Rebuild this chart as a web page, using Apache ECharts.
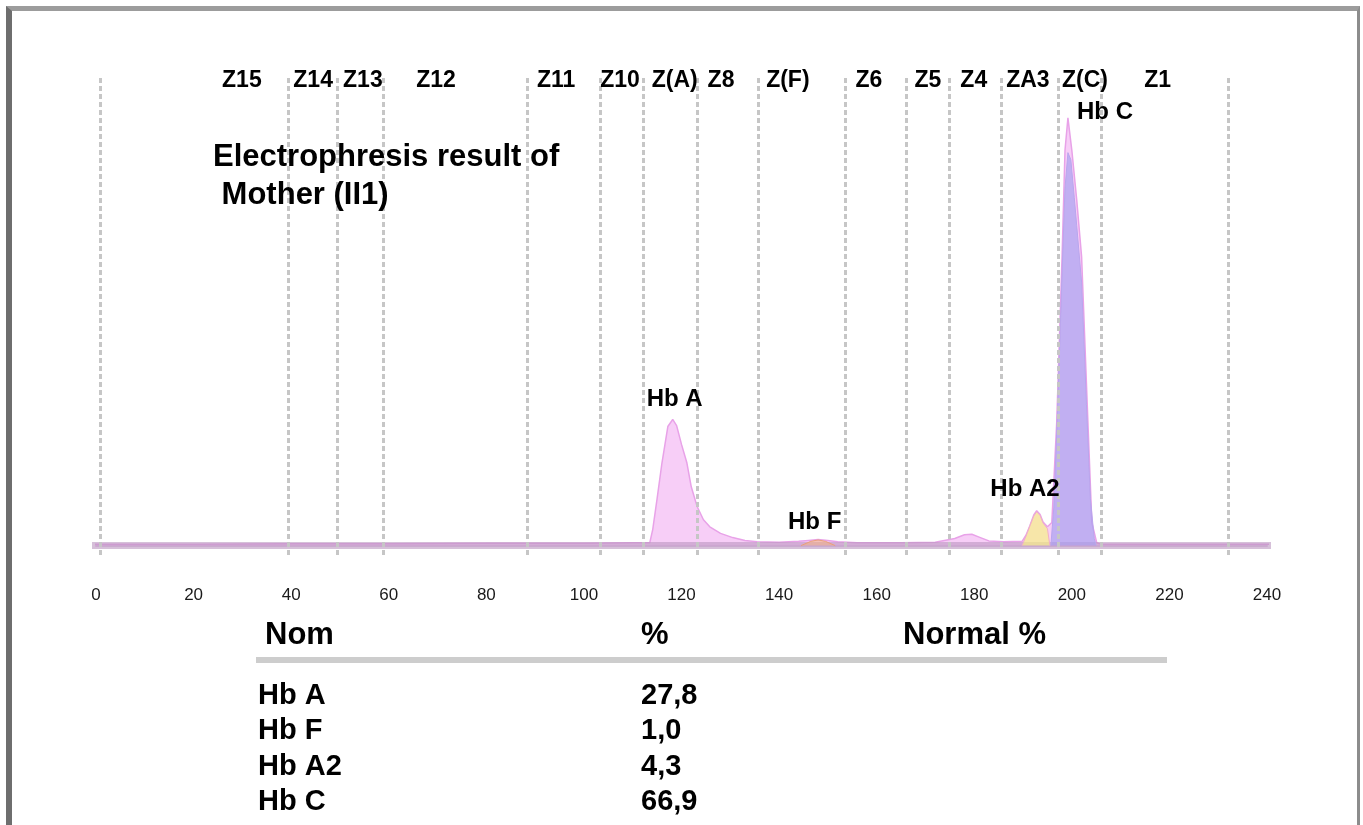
<!DOCTYPE html>
<html>
<head>
<meta charset="utf-8">
<script src="https://cdn.jsdelivr.net/npm/echarts@6/dist/echarts.min.js"></script>
<style>
  html, body { margin: 0; padding: 0; background: #fff; }
  #wrap { position: relative; width: 1363px; height: 825px; overflow: hidden; }
  #chart { position: absolute; left: 0; top: 0; width: 1363px; height: 825px; }
  #frame {
    position: absolute; left: 6px; top: 6px; width: 1345px; height: 840px;
    border-top: 5px solid #9c9c9c; border-left: 6px solid #6e6e6e; border-right: 3px solid #8c8c8c;
    pointer-events: none;
  }
</style>
</head>
<body>
<div id="wrap">
  <div id="chart"></div>
  <div id="frame"></div>
</div>
<script>
// densitometer trace (mobility units vs. relative absorbance)
const traceX = [-1.6, 20, 40, 60, 80, 100, 110, 113.5, 114.1, 115, 116, 117.2, 118.2, 119, 120, 121.1, 122, 123.2, 124.5, 125.8, 128, 130.5, 133, 135.5, 140, 144, 146, 148, 150, 152, 156, 165, 172, 176, 178, 179.5, 181, 183, 186, 189.8, 190.6, 191.4, 192.2, 192.8, 193.5, 194.1, 195, 195.9, 196.9, 198, 198.6, 199.2, 200, 201, 202, 203.3, 204.1, 205.1, 206, 215, 230, 241];
const traceY = [0.3, 0.3, 0.4, 0.4, 0.5, 0.5, 0.6, 0.6, 3.4, 10, 17.6, 25.3, 26.8, 25.5, 21.5, 17.6, 12.5, 8.3, 5.5, 4.0, 2.6, 1.7, 1.1, 0.8, 0.7, 0.9, 1.1, 1.3, 1.1, 0.8, 0.6, 0.6, 0.7, 1.5, 2.3, 2.4, 1.8, 1.0, 0.8, 0.9, 2.2, 4.2, 6.5, 7.4, 6.6, 5.0, 4.0, 4.9, 26.1, 61.4, 84, 90.9, 84, 73.5, 61.4, 26.1, 4.9, 0.6, 0.3, 0.3, 0.3, 0.3];

const hbcX = [195.7, 196.3, 196.9, 197.5, 198, 198.6, 199.2, 199.8, 200.5, 201, 202, 203, 203.8, 204.6, 205];
const hbcY = [0, 8, 24, 42, 58, 76, 83.5, 82, 74, 68, 56, 30, 10, 1.5, 0];

const hba2X = [189.8, 190.6, 191.4, 192.2, 192.8, 193.5, 194.1, 195, 195.5];
const hba2Y = [0, 2, 4.2, 6.3, 7.2, 6.4, 4.8, 3.6, 0];

const hbfX = [144.5, 146.5, 148, 149.5, 151.5];
const hbfY = [0, 0.9, 1.2, 0.9, 0];

const baselineX = [-1.6, 241];

const zoneLines = [0.8, 39.3, 49.4, 58.8, 88.3, 103.3, 112.1, 123.2, 135.7, 153.5, 166, 174.8, 185.5, 197.3, 206.1, 232];
const zoneNames = ["Z15", "Z14", "Z13", "Z12", "Z11", "Z10", "Z(A)", "Z8", "Z(F)", "Z6", "Z5", "Z4", "ZA3", "Z(C)", "Z1"];
const zoneX = [29.9, 44.5, 54.7, 69.7, 94.3, 107.4, 118.6, 128.1, 141.8, 158.4, 170.5, 179.9, 191, 202.7, 217.6];
const zoneY = 98.9;

const peakNames = ["Hb A", "Hb F", "Hb A2", "Hb C"];
const peakLabelX = [118.6, 147.3, 190.4, 206.8];
const peakLabelY = [31.0, 4.9, 11.9, 92.1];

const tableHeaders = ["Nom", "%", "Normal %"];
const tableNames = ["Hb A", "Hb F", "Hb A2", "Hb C"];
const tablePct = ["27,8", "1,0", "4,3", "66,9"];

const FONT = "'Liberation Sans', Arial, sans-serif";

const pairs = (xs, ys) => xs.map((x, i) => [x, ys[i]]);

const chart = echarts.init(document.getElementById("chart"));

const tableGraphics = [];
const headerX = [265, 641, 903];
tableHeaders.forEach((h, i) => {
  tableGraphics.push({
    type: "text", left: headerX[i], top: 620,
    style: { text: h, font: "bold 31px " + FONT, fill: "#000" }
  });
});
tableGraphics.push({
  type: "line", shape: { x1: 256, y1: 660, x2: 1167, y2: 660 },
  style: { stroke: "#cdcdcd", lineWidth: 6 }
});
tableNames.forEach((n, i) => {
  const top = 681 + i * 35.5;
  tableGraphics.push({
    type: "text", left: 258, top: top,
    style: { text: n, font: "bold 29px " + FONT, fill: "#000" }
  });
  tableGraphics.push({
    type: "text", left: 641, top: top,
    style: { text: tablePct[i], font: "bold 29px " + FONT, fill: "#000" }
  });
});

const labelStyle = (size) => ({
  show: true, position: "inside", formatter: "{b}",
  color: "#000", opacity: 1, fontFamily: FONT, fontWeight: "bold", fontSize: size
});

chart.setOption({
  animation: false,
  backgroundColor: "#fff",
  title: {
    text: "Electrophresis result of\n Mother (II1)",
    left: 208,
    top: 133,
    textStyle: { fontFamily: FONT, fontWeight: "bold", fontSize: 31, lineHeight: 38, color: "#000" }
  },
  grid: { left: 96, right: 96, top: 75, bottom: 270 },
  xAxis: {
    type: "value",
    min: 0,
    max: 240,
    interval: 20,
    offset: 17,
    axisLine: { show: true, lineStyle: { color: "#e2c8e6", width: 2 } },
    axisTick: { show: false },
    splitLine: { show: false },
    axisLabel: { color: "#1a1a1a", fontSize: 17, fontFamily: FONT, margin: 15 }
  },
  yAxis: {
    type: "value",
    min: -2,
    max: 100,
    show: false,
    splitLine: { show: false }
  },
  graphic: tableGraphics,
  series: [
    {
      name: "zones",
      type: "line",
      data: [],
      silent: true,
      markLine: {
        silent: true,
        symbol: "none",
        label: { show: false },
        lineStyle: { color: "#c6c6c6", type: [5, 3], width: 3 },
        data: zoneLines.map((v) => ({ xAxis: v }))
      },
      z: 1
    },
    {
      name: "trace",
      type: "line",
      data: pairs(traceX, traceY),
      symbol: "none",
      clip: false,
      lineStyle: { color: "#e8a2e8", width: 1.5 },
      areaStyle: { color: "rgba(242,172,242,0.85)" },
      z: 3
    },
    {
      name: "baseline",
      type: "line",
      data: baselineX.map((x) => [x, 0]),
      symbol: "none",
      clip: false,
      silent: true,
      lineStyle: { color: "rgba(186,150,192,0.6)", width: 7 },
      z: 3
    },
    {
      name: "Hb F",
      type: "line",
      data: pairs(hbfX, hbfY),
      symbol: "none",
      lineStyle: { color: "#eaa07a", width: 1 },
      areaStyle: { color: "rgba(240,178,130,0.8)" },
      z: 4
    },
    {
      name: "Hb A2",
      type: "line",
      data: pairs(hba2X, hba2Y),
      symbol: "none",
      lineStyle: { color: "#f0b0c8", width: 1 },
      areaStyle: { color: "rgba(248,242,130,0.95)" },
      z: 4
    },
    {
      name: "Hb C",
      type: "line",
      data: pairs(hbcX, hbcY),
      symbol: "none",
      lineStyle: { color: "#b9a6ee", width: 1 },
      areaStyle: { color: "rgba(166,158,240,0.95)" },
      z: 4
    },
    {
      name: "zoneLabels",
      type: "scatter",
      symbolSize: 0,
      silent: true,
      itemStyle: { opacity: 1 },
      data: zoneNames.map((n, i) => ({ name: n, value: [zoneX[i], zoneY] })),
      label: labelStyle(23),
      z: 6
    },
    {
      name: "peakLabels",
      type: "scatter",
      symbolSize: 0,
      silent: true,
      itemStyle: { opacity: 1 },
      data: peakNames.map((n, i) => ({ name: n, value: [peakLabelX[i], peakLabelY[i]] })),
      label: labelStyle(24),
      z: 6
    }
  ]
});
</script>
</body>
</html>
